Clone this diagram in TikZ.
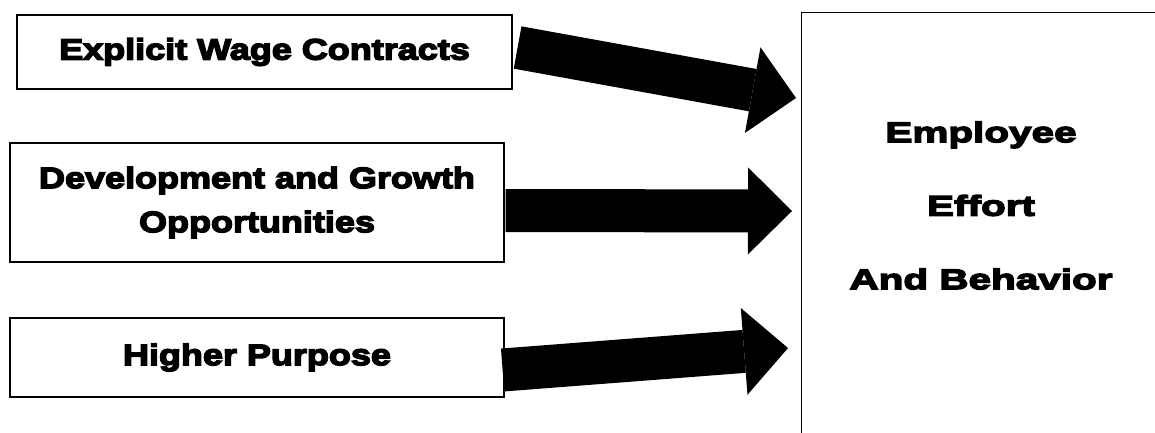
\documentclass[tikz,border=0pt]{standalone}
\usepackage{fontspec}
\usetikzlibrary{arrows.meta}
\newfontfamily\leftface[FakeStretch=1.22,FakeBold=5]{Liberation Sans Bold}
\newfontfamily\rightface[FakeStretch=1.42,FakeBold=5]{Liberation Sans Bold}
\newcommand\leftfont{\leftface\fontsize{29.5}{44}\selectfont}
\newcommand\rightfont{\rightface\fontsize{28.5}{73.5}\selectfont}
\begin{document}
\begin{tikzpicture}
[x=1pt,y=-1pt,
  boxdecorate/.style={shape=rectangle,draw,line width=1.2pt,inner sep=0pt,align=center,font=\leftfont},%
  arrowdecorate/.style={-{Triangle[length=44pt,width=87pt,line width=0pt]},line width=43pt}]
\useasboundingbox (0,0) rectangle (1155,432);
\clip (0,0) rectangle (1155,432);
%% nodes or vertices
\foreach \nodename/\x/\y/\w/\h/\words in {wage/264.5/52/495/74/{Explicit Wage Contracts},
  growth/257/202.5/494/119/{Development and Growth\\Opportunities},
  purpose/257/357.5/494/79/{Higher Purpose}} {
  \node (\nodename) at (\x,\y) [boxdecorate,minimum width=\w pt,minimum height=\h pt] {\words};
}
\node (effort) at (801,12) [anchor=north west,draw,line width=1.2pt,minimum width=360pt,minimum height=440pt] {};
\node (effortlabel) at (981,205.5) [align=center,font=\rightfont] {Employee\\Effort\\And Behavior};
\coordinate (tipa) at (796,98);
\coordinate (tipb) at (792,211);
\coordinate (tipc) at (788,348);
%% edges or lines
\path
\foreach \startnode/\sx/\sy/\endnode in {wage/5/4.5/tipa, growth/1/-8/tipb, purpose/-2/-12.5/tipc} {
  ([xshift=\sx pt,yshift=\sy pt]\startnode.east) edge[arrowdecorate] (\endnode)
};
\end{tikzpicture}
\end{document}
